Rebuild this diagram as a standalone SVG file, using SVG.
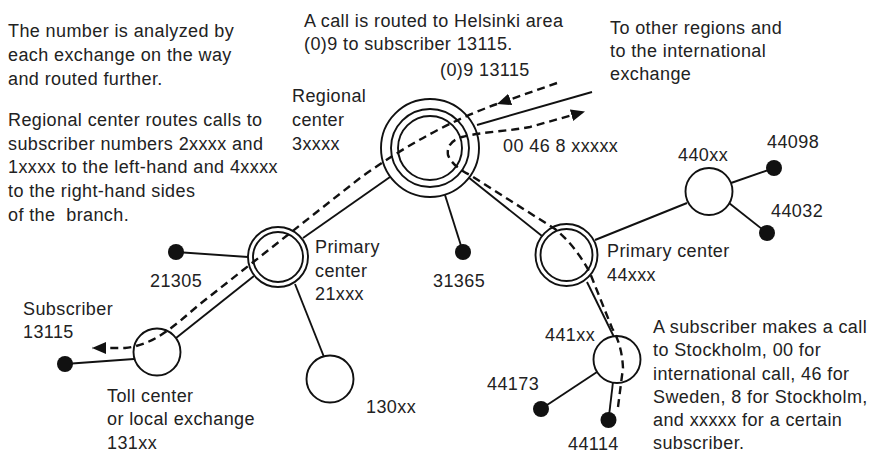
<svg xmlns="http://www.w3.org/2000/svg" width="877" height="456" viewBox="0 0 877 456">
<style>
text{font-family:"Liberation Sans",Arial,sans-serif;font-size:18px;letter-spacing:0.4px;fill:#222}
.ln{stroke:#111;stroke-width:1.9;fill:none}
.nd{stroke:#111;stroke-width:1.9;fill:#fff}
.dot{fill:#111}
.dash{stroke:#111;stroke-width:2.4;fill:none;stroke-dasharray:8 5}
</style>
<defs>
<marker id="ah" markerUnits="userSpaceOnUse" markerWidth="16" markerHeight="14" refX="14" refY="6" orient="auto">
<path d="M0,0 L14,6 L0,12 z" fill="#111"/>
</marker>
</defs>
<rect width="877" height="456" fill="#fff"/>
<g id="connectors">
<line class="ln" x1="390" y1="177" x2="303" y2="238"/>
<line class="ln" x1="254" y1="276" x2="176" y2="338"/>
<line class="ln" x1="295" y1="284" x2="324" y2="357"/>
<line class="ln" x1="176" y1="252" x2="248" y2="257"/>
<line class="ln" x1="134" y1="359" x2="65" y2="364"/>
<line class="ln" x1="445" y1="195" x2="463" y2="252"/>
<line class="ln" x1="468" y1="177" x2="542" y2="236"/>
<line class="ln" x1="477" y1="125" x2="592" y2="92"/>
<line class="ln" x1="595" y1="240" x2="687" y2="203"/>
<line class="ln" x1="731" y1="183" x2="774" y2="168"/>
<line class="ln" x1="729" y1="203" x2="767" y2="233"/>
<line class="ln" x1="587" y1="282" x2="614" y2="337"/>
<line class="ln" x1="597" y1="372" x2="541" y2="409"/>
<line class="ln" x1="613" y1="382" x2="608.5" y2="420"/>
</g>
<g id="n-regional"><circle class="nd" cx="430" cy="148" r="49"/><circle class="nd" cx="430" cy="148" r="39"/><circle class="nd" cx="430" cy="148" r="32"/></g>
<g id="n-primary21"><circle class="nd" cx="278" cy="257" r="30"/><circle class="nd" cx="278" cy="257" r="25"/></g>
<g id="n-primary44"><circle class="nd" cx="566.5" cy="255" r="31"/><circle class="nd" cx="566.5" cy="255" r="26"/></g>
<g id="n-toll"><circle class="nd" cx="157" cy="352" r="23.5"/></g>
<g id="n-130xx"><circle class="nd" cx="330" cy="379" r="23.5"/></g>
<g id="n-440xx"><circle class="nd" cx="709" cy="191.5" r="23.5"/></g>
<g id="n-441xx"><circle class="nd" cx="617" cy="359.5" r="23.5"/></g>
<g id="n-21305"><circle class="dot" cx="176" cy="252" r="8"/></g>
<g id="n-31365"><circle class="dot" cx="463" cy="252" r="8"/></g>
<g id="n-44098"><circle class="dot" cx="774" cy="168" r="8"/></g>
<g id="n-44032"><circle class="dot" cx="767" cy="233" r="8"/></g>
<g id="n-44173"><circle class="dot" cx="541" cy="409" r="8"/></g>
<g id="n-44114"><circle class="dot" cx="608.5" cy="420" r="8"/></g>
<g id="n-subscriber"><circle class="dot" cx="65" cy="364" r="8"/></g>
<g id="routes">
<path class="dash" d="M557,83 L497,104" marker-end="url(#ah)"/>
<path class="dash" d="M497,104 Q430,128 360,178 L200,304 C175,325 155,345 125,348 L92,348" marker-end="url(#ah)"/>
<path class="dash" d="M618,407 L623,368 Q622,345 612,328 L590,273 Q575,245 555,229 L470,175 Q452,166 448,155 Q446,142 462,137 C480,132 510,131 530,127 L585,111.5" marker-end="url(#ah)"/>
</g>
<g id="labels">
<text x="8" y="37">The number is analyzed by</text>
<text x="8" y="61">each exchange on the way</text>
<text x="8" y="85">and routed further.</text>
<text x="8" y="126">Regional center routes calls to</text>
<text x="8" y="150">subscriber numbers 2xxxx and</text>
<text x="8" y="173">1xxxx to the left-hand and 4xxxx</text>
<text x="8" y="197">to the right-hand sides</text>
<text x="8" y="221" xml:space="preserve">of the  branch.</text>
<text x="304" y="27">A call is routed to Helsinki area</text>
<text x="304" y="50">(0)9 to subscriber 13115.</text>
<text x="440" y="76">(0)9 13115</text>
<text x="292" y="102">Regional</text>
<text x="292" y="126">center</text>
<text x="292" y="150">3xxxx</text>
<text x="610" y="34">To other regions and</text>
<text x="610" y="57">to the international</text>
<text x="610" y="80">exchange</text>
<text x="503" y="152">00 46 8 xxxxx</text>
<text x="315" y="253">Primary</text>
<text x="315" y="277">center</text>
<text x="315" y="300">21xxx</text>
<text x="150" y="287">21305</text>
<text x="433" y="287">31365</text>
<text x="23" y="315">Subscriber</text>
<text x="23" y="338">13115</text>
<text x="107" y="402">Toll center</text>
<text x="107" y="425">or local exchange</text>
<text x="107" y="449">131xx</text>
<text x="366" y="413">130xx</text>
<text x="607" y="257">Primary center</text>
<text x="607" y="281">44xxx</text>
<text x="678" y="161">440xx</text>
<text x="767" y="148">44098</text>
<text x="771" y="217">44032</text>
<text x="545" y="341">441xx</text>
<text x="487" y="390">44173</text>
<text x="568" y="450">44114</text>
<text x="653" y="333">A subscriber makes a call</text>
<text x="653" y="356">to Stockholm, 00 for</text>
<text x="653" y="380">international call, 46 for</text>
<text x="653" y="403">Sweden, 8 for Stockholm,</text>
<text x="653" y="426">and xxxxx for a certain</text>
<text x="653" y="449">subscriber.</text>
</g>
</svg>
